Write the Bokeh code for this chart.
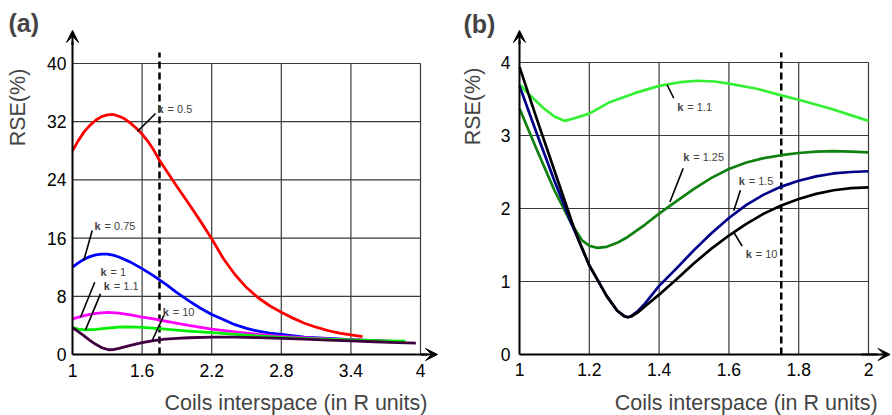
import numpy as np
from bokeh.plotting import figure
from bokeh.models import Range1d, FixedTicker, Label, Arrow, VeeHead
from bokeh.layouts import row
from bokeh.embed import file_html
from bokeh.resources import INLINE

FONT = "Liberation Sans"

# ---------------- Panel (a) data ----------------
a_xticks = [1, 1.6, 2.2, 2.8, 3.4, 4]
a_xtick_labels = ["1", "1.6", "2.2", "2.8", "3.4", "4"]
a_yticks = [0, 8, 16, 24, 32, 40]
a_ytick_labels = ["0", "8", "16", "24", "32", "40"]
a_marker_x = 1.75

a_k05_x = [1.0, 1.05, 1.1, 1.15, 1.2, 1.25, 1.3, 1.35, 1.4, 1.45, 1.5, 1.55, 1.6, 1.65, 1.7, 1.75, 1.8, 1.9,
           2.0, 2.1, 2.2, 2.3, 2.4, 2.5, 2.6, 2.7, 2.8, 2.9, 3.0, 3.1, 3.2, 3.3, 3.4, 3.5]
a_k05_y = [28.0, 29.4, 30.6, 31.5, 32.2, 32.7, 32.95, 33.0, 32.75, 32.4, 31.8, 31.1, 30.3, 29.3, 28.1, 26.7, 25.5, 23.1,
           20.8, 18.4, 15.9, 13.2, 11.0, 9.2, 7.8, 6.7, 5.8, 5.0, 4.3, 3.75, 3.3, 2.95, 2.7, 2.45]

a_k075_x = [1.0, 1.05, 1.1, 1.15, 1.2, 1.25, 1.3, 1.35, 1.4, 1.5, 1.6, 1.7, 1.8, 1.9, 2.0, 2.1, 2.2, 2.3, 2.4,
            2.5, 2.6, 2.7, 2.8, 3.0, 3.2, 3.4, 3.6, 3.75]
a_k075_y = [12.0, 12.6, 13.1, 13.45, 13.7, 13.8, 13.8, 13.65, 13.4, 12.7, 11.8, 10.8, 9.7, 8.5, 7.4, 6.4, 5.5, 4.8, 4.1,
            3.6, 3.2, 2.95, 2.75, 2.4, 2.2, 2.05, 1.9, 1.8]

a_k1_x = [1.0, 1.1, 1.2, 1.3, 1.4, 1.5, 1.6, 1.7, 1.8, 2.0, 2.2, 2.4, 2.6, 2.8, 3.0, 3.2, 3.4, 3.6, 3.75]
a_k1_y = [4.9, 5.35, 5.65, 5.8, 5.7, 5.45, 5.15, 4.9, 4.6, 4.0, 3.5, 3.1, 2.75, 2.5, 2.3, 2.15, 2.0, 1.9, 1.8]

a_k11_x = [1.0, 1.05, 1.11, 1.2, 1.3, 1.4, 1.47, 1.55, 1.6, 1.75, 2.0, 2.2, 2.5, 2.8, 3.1, 3.4, 3.7, 3.87]
a_k11_y = [3.7, 3.5, 3.38, 3.45, 3.62, 3.75, 3.8, 3.77, 3.72, 3.55, 3.2, 3.0, 2.65, 2.35, 2.15, 2.0, 1.88, 1.82]

a_k10_x = [1.0, 1.05, 1.1, 1.15, 1.2, 1.25, 1.31, 1.35, 1.4, 1.5, 1.6, 1.7, 1.8, 1.9, 2.0, 2.2, 2.4, 2.6, 2.8,
           3.0, 3.2, 3.4, 3.6, 3.8, 3.96]
a_k10_y = [3.7, 3.15, 2.55, 1.95, 1.4, 0.95, 0.65, 0.68, 0.85, 1.25, 1.62, 1.9, 2.1, 2.22, 2.3, 2.4, 2.4, 2.32, 2.22,
           2.1, 1.98, 1.86, 1.75, 1.63, 1.55]

# ---------------- Panel (b) data ----------------
b_xticks = [1, 1.2, 1.4, 1.6, 1.8, 2]
b_xtick_labels = ["1", "1.2", "1.4", "1.6", "1.8", "2"]
b_yticks = [0, 1, 2, 3, 4]
b_ytick_labels = ["0", "1", "2", "3", "4"]
b_marker_x = 1.75

b_k11_x = [1.0, 1.03, 1.07, 1.10, 1.13, 1.16, 1.2, 1.26, 1.33, 1.4, 1.46, 1.51, 1.56, 1.6, 1.68, 1.75, 1.8, 1.89, 2.0]
b_k11_y = [3.70, 3.55, 3.37, 3.26, 3.20, 3.24, 3.30, 3.46, 3.58, 3.68, 3.73, 3.75, 3.74, 3.71, 3.64, 3.55, 3.49, 3.37, 3.20]

b_k125_x = [1.0, 1.05, 1.1, 1.15, 1.18, 1.2, 1.223, 1.25, 1.28, 1.31, 1.36, 1.4, 1.45, 1.5, 1.55, 1.6, 1.65, 1.7,
            1.75, 1.8, 1.85, 1.9, 1.95, 2.0]
b_k125_y = [3.37, 2.80, 2.25, 1.78, 1.56, 1.49, 1.46, 1.475, 1.53, 1.61, 1.78, 1.93, 2.10, 2.27, 2.42, 2.54, 2.63, 2.69,
            2.73, 2.76, 2.78, 2.785, 2.78, 2.77]

b_k15_x = [1.0, 1.05, 1.1, 1.15, 1.17, 1.2, 1.25, 1.28, 1.3, 1.31, 1.32, 1.34, 1.36, 1.4, 1.45, 1.5, 1.55, 1.6, 1.65,
           1.7, 1.75, 1.8, 1.85, 1.9, 1.95, 2.0]
b_k15_y = [3.68, 3.02, 2.38, 1.78, 1.56, 1.22, 0.80, 0.60, 0.525, 0.51, 0.525, 0.6, 0.70, 0.94, 1.18, 1.43, 1.66, 1.87,
           2.05, 2.19, 2.30, 2.38, 2.44, 2.48, 2.50, 2.51]

b_k10_x = [1.0, 1.05, 1.1, 1.15, 1.17, 1.2, 1.25, 1.28, 1.3, 1.31, 1.32, 1.34, 1.36, 1.4, 1.45, 1.5, 1.55, 1.6, 1.65,
           1.7, 1.75, 1.8, 1.85, 1.9, 1.95, 2.0]
b_k10_y = [3.94, 3.22, 2.52, 1.82, 1.56, 1.22, 0.80, 0.60, 0.525, 0.51, 0.52, 0.58, 0.66, 0.82, 1.03, 1.25, 1.45, 1.63,
           1.79, 1.93, 2.04, 2.13, 2.20, 2.25, 2.28, 2.29]

FIG_H = 415


def base_fig(width, xr, yr, xticks, xlabels, yticks, ylabels, xbounds, ybounds, xstand, ystand):
    p = figure(width=width, height=FIG_H, x_range=Range1d(*xr), y_range=Range1d(*yr),
               output_backend="svg", toolbar_location=None,
               min_border_left=0, min_border_right=0, min_border_top=0, min_border_bottom=0)
    p.outline_line_color = None
    p.background_fill_color = "white"
    p.border_fill_color = "white"
    p.xgrid.visible = False
    p.ygrid.visible = False
    p.xaxis.fixed_location = yticks[0]
    p.yaxis.fixed_location = xticks[0]
    p.xaxis.bounds = xbounds
    p.yaxis.bounds = ybounds
    p.xaxis.ticker = FixedTicker(ticks=xticks)
    p.yaxis.ticker = FixedTicker(ticks=yticks)
    p.xaxis.major_label_overrides = {t: l for t, l in zip(xticks, xlabels)}
    p.yaxis.major_label_overrides = {t: l for t, l in zip(yticks, ylabels)}
    for ax in (p.xaxis, p.yaxis):
        ax.major_tick_in = 0
        ax.major_tick_out = 0
        ax.minor_tick_in = 0
        ax.minor_tick_out = 0
        ax.axis_line_width = 2
        ax.axis_line_color = "black"
        ax.major_label_text_font = FONT
        ax.major_label_text_font_size = "17.5px"
        ax.major_label_text_color = "black"
    p.xaxis.major_label_standoff = xstand
    p.yaxis.major_label_standoff = ystand
    # grid inside the data box
    gx = list(xticks[1:])
    p.segment(x0=gx, y0=[yticks[0]] * len(gx), x1=gx, y1=[yticks[-1]] * len(gx),
              line_color="#3a3a3a", line_width=1.2)
    gy = list(yticks[1:])
    p.segment(x0=[xticks[0]] * len(gy), y0=gy, x1=[xticks[-1]] * len(gy), y1=gy,
              line_color="#3a3a3a", line_width=1.2)
    return p


def add_arrows(p, x0, y0, xtip, ytip, xa, ya):
    p.add_layout(Arrow(end=VeeHead(size=12, fill_color="black", line_color="black", line_width=1),
                       x_start=xa, y_start=y0, x_end=xtip, y_end=y0,
                       line_color="black", line_width=2))
    p.add_layout(Arrow(end=VeeHead(size=12, fill_color="black", line_color="black", line_width=1),
                       x_start=x0, y_start=ya, x_end=x0, y_end=ytip,
                       line_color="black", line_width=2))


def add_note(p, kx, ky, rest, seg):
    p.add_layout(Label(x=kx, y=ky, text="k", text_font=FONT, text_font_style="bold",
                       text_font_size="11px", text_align="left", text_baseline="middle"))
    p.add_layout(Label(x=kx, y=ky, x_offset=10, text=rest, text_font=FONT,
                       text_font_size="11px", text_align="left", text_baseline="middle"))
    p.segment(x0=[seg[0]], y0=[seg[1]], x1=[seg[2]], y1=[seg[3]], line_color="black", line_width=1.6)


def add_titles(p, letter, lx, ly, xt_x, xt_y, yt_x, yt_y):
    p.add_layout(Label(x=lx, y=ly, text=letter, text_font=FONT, text_font_style="bold",
                       text_font_size="25px", text_align="left", text_baseline="middle"))
    p.add_layout(Label(x=xt_x, y=xt_y, text="Coils interspace (in R units)", text_font=FONT,
                       text_font_size="21.5px", text_align="right", text_baseline="middle"))
    p.add_layout(Label(x=yt_x, y=yt_y, text="RSE(%)", text_font=FONT, angle=np.pi / 2,
                       text_font_size="21.5px", text_align="center", text_baseline="middle"))


# ---------------- Figure (a) ----------------
# frame = whole figure: page x 0..448, 116 px per unit, x=1 at page 72
# page y 0..415, 7.275 px per unit, y=0 at page 354
pa = base_fig(448, (0.37931, 4.24138), (-8.3849, 48.660), a_xticks, a_xtick_labels, a_yticks, a_ytick_labels,
              (1, 4.06), (0, 43.0), 9, 6)
pa.segment(x0=[a_marker_x], y0=[0], x1=[a_marker_x], y1=[41.5], line_color="black",
           line_width=2.5, line_dash="7 4")
LW = 2.8
pa.line(a_k05_x, a_k05_y, line_color="#ff0000", line_width=LW, line_join="round")
pa.line(a_k075_x, a_k075_y, line_color="#0000ff", line_width=LW, line_join="round")
pa.line(a_k1_x, a_k1_y, line_color="#ff00ff", line_width=LW, line_join="round")
pa.line(a_k11_x, a_k11_y, line_color="#00ee00", line_width=LW, line_join="round")
pa.line(a_k10_x, a_k10_y, line_color="#400040", line_width=LW, line_join="round")
add_arrows(pa, 1, 0, 4.147, 44.55, 4.0, 42.5)
add_note(pa, 1.733, 33.68, "= 0.5", (1.560, 30.65, 1.7155, 33.13))
add_note(pa, 1.19, 17.73, "= 0.75", (1.097, 12.92, 1.170, 17.04))
add_note(pa, 1.241, 11.31, "= 1", (1.069, 5.13, 1.192, 9.94))
add_note(pa, 1.27, 9.48, "= 1.1", (1.112, 3.39, 1.241, 8.34))
add_note(pa, 1.778, 5.81, "= 10", (1.687, 1.92, 1.787, 5.36))
add_titles(pa, "(a)", 0.448, 45.5, 4.060, -6.6, 0.530, 33.95)

# ---------------- Figure (b) ----------------
# page x 448..892, 349 px per unit, x=1 at page 519; y: 73 px per unit, y=0 at page 354
pb = base_fig(444, (0.79656, 2.06877), (-0.83562, 4.84932), b_xticks, b_xtick_labels, b_yticks, b_ytick_labels,
              (1, 2.026), (0, 4.3), 9, 9)
pb.segment(x0=[b_marker_x], y0=[0], x1=[b_marker_x], y1=[4.137], line_color="black",
           line_width=2.5, line_dash="7 4")
LWB = 2.7
pb.line(b_k11_x, b_k11_y, line_color="#33f033", line_width=LWB, line_join="round")
pb.line(b_k125_x, b_k125_y, line_color="#108010", line_width=LWB, line_join="round")
pb.line(b_k15_x, b_k15_y, line_color="#000088", line_width=LWB, line_join="round")
pb.line(b_k10_x, b_k10_y, line_color="#000000", line_width=LWB, line_join="round")
add_arrows(pb, 1, 0, 2.062, 4.44, 1.98, 4.25)
add_note(pb, 1.452, 3.39, "= 1.1", (1.423, 3.695, 1.442, 3.51))
add_note(pb, 1.469, 2.70, "= 1.25", (1.469, 2.55, 1.431, 2.09))
add_note(pb, 1.628, 2.38, "= 1.5", (1.633, 2.25, 1.614, 1.97))
add_note(pb, 1.648, 1.38, "= 10", (1.614, 1.675, 1.638, 1.484))
add_titles(pb, "(b)", 0.8395, 4.534, 2.026, -0.658, 0.868, 3.397)

layout = row(pa, pb)
open("out.html", "w").write(file_html(layout, INLINE))
